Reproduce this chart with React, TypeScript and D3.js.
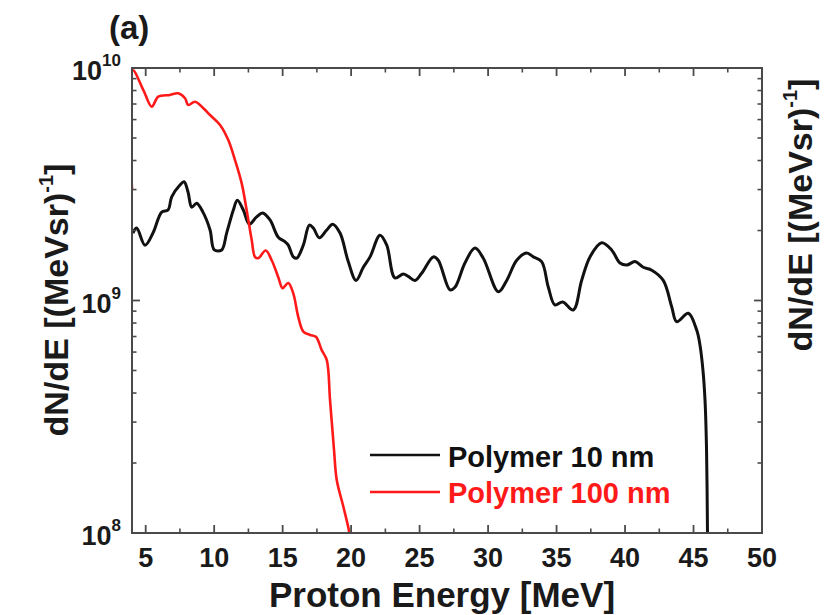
import React from "react";
import * as d3 from "d3";

const blackE = [4.07, 4.34, 4.95, 5.53, 6.17, 6.63, 6.9, 7.5, 7.8, 8.09, 8.36, 8.72, 9.18, 9.7, 10.01, 10.55, 10.91, 11.4, 11.69, 12.13, 12.56, 13.1, 13.54, 14.08, 14.68, 15.17, 15.41, 15.78, 16.03, 16.51, 16.95, 17.24, 17.68, 18.22, 18.65, 19.19, 19.79, 20.36, 20.89, 21.38, 22.11, 22.6, 23.2, 23.81, 24.17, 24.66, 25.15, 26.0, 26.36, 27.22, 27.58, 28.31, 29.04, 29.65, 30.75, 31.36, 32.09, 32.82, 33.3, 33.91, 34.4, 34.88, 35.45, 36.22, 36.83, 37.44, 38.29, 39.02, 39.63, 40.12, 40.73, 41.33, 41.95, 42.79, 43.41, 43.77, 44.62, 45.23, 45.47, 45.69, 45.84, 45.95, 46.02];
const blackV = [1.95e9, 2.05e9, 1.73e9, 1.95e9, 2.4e9, 2.45e9, 2.79e9, 3.14e9, 3.24e9, 2.93e9, 2.52e9, 2.62e9, 2.4e9, 2.01e9, 1.65e9, 1.65e9, 1.95e9, 2.45e9, 2.7e9, 2.45e9, 2.13e9, 2.29e9, 2.38e9, 2.22e9, 1.87e9, 1.79e9, 1.73e9, 1.54e9, 1.52e9, 1.73e9, 2.11e9, 2.05e9, 1.86e9, 2.01e9, 2.13e9, 1.95e9, 1.47e9, 1.22e9, 1.39e9, 1.54e9, 1.91e9, 1.73e9, 1.25e9, 1.3e9, 1.27e9, 1.22e9, 1.31e9, 1.54e9, 1.49e9, 1.11e9, 1.14e9, 1.45e9, 1.68e9, 1.52e9, 1.09e9, 1.22e9, 1.49e9, 1.6e9, 1.54e9, 1.47e9, 1.14e9, 9.57e8, 9.86e8, 9.1e8, 1.22e9, 1.54e9, 1.77e9, 1.65e9, 1.45e9, 1.42e9, 1.47e9, 1.39e9, 1.35e9, 1.22e9, 9.38e8, 8.11e8, 8.81e8, 7.46e8, 6.44e8, 5.01e8, 3.72e8, 2.29e8, 1.0e8];

const redE = [4.0, 4.05, 4.83, 5.44, 5.92, 6.77, 7.38, 7.87, 8.11, 8.6, 9.21, 9.7, 10.43, 11.03, 11.52, 12.01, 12.37, 12.74, 12.98, 13.22, 13.76, 14.2, 14.68, 15.0, 15.41, 15.78, 16.14, 16.51, 17.0, 17.43, 17.85, 18.22, 18.46, 18.75, 18.95, 19.43, 19.79, 19.87];
const redV = [2.99e9, 9.77e9, 8.04e9, 6.82e9, 7.53e9, 7.66e9, 7.78e9, 7.41e9, 6.93e9, 7.16e9, 6.71e9, 6.28e9, 5.69e9, 4.9e9, 4.02e9, 3.19e9, 2.45e9, 1.82e9, 1.54e9, 1.52e9, 1.64e9, 1.49e9, 1.26e9, 1.13e9, 1.19e9, 1.07e9, 8.51e8, 7.35e8, 7.11e8, 6.98e8, 6.12e8, 5.55e8, 3.73e8, 2.28e8, 1.69e8, 1.3e8, 1.06e8, 1.0e8];

const xMajorTicks = [5, 10, 15, 20, 25, 30, 35, 40, 45, 50];
const xMinorTicks = [7.5, 12.5, 17.5, 22.5, 27.5, 32.5, 37.5, 42.5, 47.5];
const yMajorExps = [8, 9, 10];
const seriesNames = ["Polymer 10 nm", "Polymer 100 nm"];
const seriesColors = ["#111111", "#ff1a1a"];

const FONT = "'Liberation Sans', Arial, Helvetica, sans-serif";

export default function App() {
  const W = 830, H = 615;
  const L = 132, R = 762, T = 68, B = 533;
  const x = d3.scaleLinear().domain([4, 50]).range([L, R]);
  const y = d3.scaleLog().domain([1e8, 1e10]).range([B, T]);

  const line = d3
    .line<[number, number]>()
    .x((d) => x(d[0]))
    .y((d) => y(d[1]))
    .curve(d3.curveCatmullRom.alpha(0.5));

  const blackData: [number, number][] = blackE.map((e, i) => [e, blackV[i]]);
  const redData: [number, number][] = redE.map((e, i) => [e, redV[i]]);

  const yMinor: number[] = [];
  [1e8, 1e9].forEach((dec) => {
    for (let k = 2; k <= 9; k++) yMinor.push(dec * k);
  });

  const axisColor = "#4a4a4a";
  const majorLen = 8;
  const minorLen = 4.5;

  return (
    <svg
      width={W}
      height={H}
      style={{ position: "absolute", left: 0, top: 0, background: "#fff" }}
      fontFamily={FONT}
      fontWeight="bold"
    >
      <defs>
        <clipPath id="plotclip">
          <rect x={L} y={T - 2} width={R - L} height={B - T + 2} />
        </clipPath>
      </defs>

      {/* panel label */}
      <text x={109} y={39} fontSize={33} fill="#1a1a1a">(a)</text>

      {/* curves */}
      <g clipPath="url(#plotclip)">
        <path d={line(blackData) || ""} fill="none" stroke={seriesColors[0]} strokeWidth={3} strokeLinejoin="round" />
        <path d={line(redData) || ""} fill="none" stroke={seriesColors[1]} strokeWidth={2.6} strokeLinejoin="round" />
      </g>

      {/* frame */}
      <rect x={L} y={T} width={R - L} height={B - T} fill="none" stroke={axisColor} strokeWidth={2} />

      {/* x ticks bottom & top */}
      {xMajorTicks.map((t) => (
        <g key={"xM" + t}>
          <line x1={x(t)} x2={x(t)} y1={B} y2={B - majorLen} stroke={axisColor} strokeWidth={1.8} />
          <line x1={x(t)} x2={x(t)} y1={T} y2={T + majorLen} stroke={axisColor} strokeWidth={1.8} />
          <text x={x(t)} y={567} fontSize={27} textAnchor="middle" fill="#1a1a1a">{t}</text>
        </g>
      ))}
      {xMinorTicks.map((t) => (
        <g key={"xm" + t}>
          <line x1={x(t)} x2={x(t)} y1={B} y2={B - minorLen} stroke={axisColor} strokeWidth={1.6} />
          <line x1={x(t)} x2={x(t)} y1={T} y2={T + minorLen} stroke={axisColor} strokeWidth={1.6} />
        </g>
      ))}

      {/* y ticks left & right */}
      {yMajorExps.map((e) => {
        const v = Math.pow(10, e);
        return (
          <g key={"yM" + e}>
            <line x1={L} x2={L + majorLen} y1={y(v)} y2={y(v)} stroke={axisColor} strokeWidth={1.8} />
            <line x1={R} x2={R - majorLen} y1={y(v)} y2={y(v)} stroke={axisColor} strokeWidth={1.8} />
            <text x={121} y={y(v) + 12} fontSize={27} textAnchor="end" fill="#1a1a1a">
              10
              <tspan fontSize={17} dy={-14}>{e}</tspan>
            </text>
          </g>
        );
      })}
      {yMinor.map((v) => (
        <g key={"ym" + v}>
          <line x1={L} x2={L + minorLen} y1={y(v)} y2={y(v)} stroke={axisColor} strokeWidth={1.6} />
          <line x1={R} x2={R - minorLen} y1={y(v)} y2={y(v)} stroke={axisColor} strokeWidth={1.6} />
        </g>
      ))}

      {/* axis titles */}
      <text x={442} y={607} fontSize={35} textAnchor="middle" fill="#1a1a1a">Proton Energy [MeV]</text>
      <text transform="translate(68,300) rotate(-90)" fontSize={34} textAnchor="middle" fill="#1a1a1a">
        dN/dE [(MeVsr)<tspan fontSize={20} dy={-15}>-1</tspan><tspan dy={15}>]</tspan>
      </text>

      {/* neighbouring panel's y title (cut off at right) */}
      <text transform="translate(812,215) rotate(-90)" fontSize={34} textAnchor="middle" fill="#1a1a1a">
        dN/dE [(MeVsr)<tspan fontSize={20} dy={-15}>-1</tspan><tspan dy={15}>]</tspan>
      </text>

      {/* legend */}
      {seriesNames.map((name, i) => (
        <g key={name}>
          <line x1={370} x2={440} y1={455 + i * 37} y2={455 + i * 37} stroke={seriesColors[i]} strokeWidth={2.6} />
          <text x={448} y={467 + i * 36} fontSize={29} fill={seriesColors[i]}>{name}</text>
        </g>
      ))}
    </svg>
  );
}
